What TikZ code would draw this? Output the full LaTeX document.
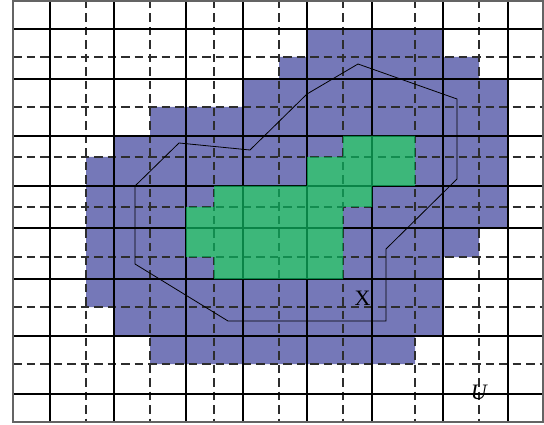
\documentclass[tikz,border=0pt]{standalone}
\usepackage{fontspec}
\setmainfont{Liberation Serif}
\usetikzlibrary{calc}
\definecolor{upperblue}{RGB}{117,120,184}
\definecolor{lowergreen}{RGB}{13,165,89}
\definecolor{framegray}{RGB}{100,100,100}
\definecolor{dashgray}{RGB}{45,45,45}
\begin{document}
\begin{tikzpicture}[x=1pt,y=-1pt,
  solidgrid/.style={line width=2pt,black},
  dashgrid/.style={line width=1.3pt,dashgray,dash pattern=on 8.5pt off 5pt},
  upperregion/.style={fill=upperblue,draw=none},
  lowerregion/.style={fill=lowergreen,fill opacity=0.8,draw=none},
  setline/.style={line width=0.8pt,black,line join=miter},
  framebox/.style={line width=1.6pt,framegray},
  lbl/.style={inner sep=0pt,font=\fontsize{22}{26}\selectfont}]
\useasboundingbox (0,0) rectangle (544,425);
% upper approximation (minus lower approximation)
\fill[upperregion,even odd rule]
  (307,29) -- (443,29) -- (443,57) -- (479,57) -- (479,79) -- (508,79) -- (508,228)
  -- (479,228) -- (479,257) -- (443,257) -- (443,336) -- (415,336) -- (415,364)
  -- (150,364) -- (150,336) -- (114,336) -- (114,307) -- (86,307) -- (86,157)
  -- (114,157) -- (114,136) -- (150,136) -- (150,107) -- (243,107) -- (243,79)
  -- (279,79) -- (279,57) -- (307,57) -- cycle
  (343,136) -- (415,136) -- (415,186) -- (372,186) -- (372,207) -- (343,207)
  -- (343,279) -- (214,279) -- (214,257) -- (186,257) -- (186,207) -- (214,207)
  -- (214,186) -- (307,186) -- (307,157) -- (343,157) -- cycle;
% dashed grid
\foreach \x in {86,150,214,279,343,415,479} \draw[dashgrid] (\x,0) -- (\x,422);
\foreach \y in {57,107,157,207,257,307,364} \draw[dashgrid] (13,\y) -- (543,\y);
% solid grid
\foreach \x in {50,114,186,243,307,372,443,508} \draw[solidgrid] (\x,0) -- (\x,422);
\foreach \y in {29,79,136,186,228,279,336,394} \draw[solidgrid] (13,\y) -- (543,\y);
% lower approximation
\fill[lowerregion]
  (343,136) -- (415,136) -- (415,186) -- (372,186) -- (372,207) -- (343,207)
  -- (343,279) -- (214,279) -- (214,257) -- (186,257) -- (186,207) -- (214,207)
  -- (214,186) -- (307,186) -- (307,157) -- (343,157) -- cycle;
% frame
\draw[framebox] (13,0.8) rectangle (543,422);
% the set X
\draw[setline] (135,186) -- (179,143) -- (250,150) -- (307,94) -- (358,64)
  -- (457,99) -- (457,179) -- (386,249) -- (386,321) -- (228,321) -- (135,264) -- cycle;
\node[lbl] (labelX) at (362.5,298.5) {X};
\node[lbl] (labelU) at (479.5,392) {\textit{U}};
\end{tikzpicture}
\end{document}
